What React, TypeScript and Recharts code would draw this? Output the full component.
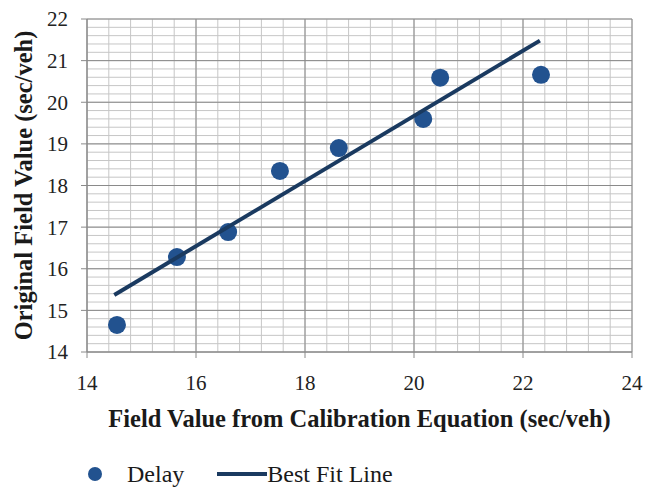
import { ScatterChart, Scatter, XAxis, YAxis, CartesianGrid, Legend, ReferenceLine } from "recharts"

const FONT = "'Liberation Serif', 'Times New Roman', serif"
const DOT = "#22528f"
const LINE = "#1a3a60"
const MAJOR = "#8a8a8a"

// measured delay points
const delayX = [14.55, 15.65, 16.59, 17.54, 18.62, 20.17, 20.48, 22.33]
const delayY = [14.65, 16.28, 16.88, 18.35, 18.9, 19.6, 20.59, 20.66]

// best fit line end points
const fitX = [14.5, 22.31]
const fitY = [15.37, 21.48]

const xTicks = [14, 16, 18, 20, 22, 24]
const yTicks = [14, 15, 16, 17, 18, 19, 20, 21, 22]
const xMinorTicks = Array.from({ length: 26 }, (_, i) => 14 + i * 0.4)
const yMinorTicks = Array.from({ length: 41 }, (_, i) => 14 + i * 0.2)

const delayData = delayX.map((x, i) => ({ x, y: delayY[i] }))
const fitData = fitX.map((x, i) => ({ x, y: fitY[i] }))

// eslint-disable-next-line @typescript-eslint/no-explicit-any
function DotShape(props: any) {
  return <circle cx={props.cx} cy={props.cy} r={9} fill={DOT} />
}

function NoShape() {
  return <g />
}

// eslint-disable-next-line @typescript-eslint/no-explicit-any
function XTick({ x, y, payload }: any) {
  return (
    <text x={x} y={y} dy="0.71em" textAnchor="middle" style={{ fontFamily: FONT }} fontSize={21} fill="#222">
      {payload.value}
    </text>
  )
}

// eslint-disable-next-line @typescript-eslint/no-explicit-any
function YTick({ x, y, payload }: any) {
  return (
    <text x={x} y={y} dy="0.355em" textAnchor="end" style={{ fontFamily: FONT }} fontSize={21} fill="#222">
      {payload.value}
    </text>
  )
}

// eslint-disable-next-line @typescript-eslint/no-explicit-any
function XTitle({ viewBox }: any) {
  return (
    <text
      x={viewBox.x + viewBox.width / 2}
      y={viewBox.y + 75}
      textAnchor="middle"
      style={{ fontFamily: FONT }}
      fontWeight="bold"
      fontSize={24.5}
      fill="#1a1a1a"
    >
      Field Value from Calibration Equation (sec/veh)
    </text>
  )
}

// eslint-disable-next-line @typescript-eslint/no-explicit-any
function YTitle({ viewBox }: any) {
  const cx = 23
  const cy = viewBox.y + viewBox.height / 2
  return (
    <text
      x={cx}
      y={cy}
      transform={`rotate(-90, ${cx}, ${cy})`}
      textAnchor="middle"
      dominantBaseline="central"
      style={{ fontFamily: FONT }}
      fontWeight="bold"
      fontSize={24.5}
      fill="#1a1a1a"
    >
      Original Field Value (sec/veh)
    </text>
  )
}

function LegendContent() {
  return (
    <div
      style={{
        height: 40,
        display: "flex",
        alignItems: "center",
        fontFamily: FONT,
        fontSize: 24,
        color: "#1a1a1a",
      }}
    >
      <svg width={16} height={16}>
        <circle cx={8} cy={8} r={7} fill={DOT} />
      </svg>
      <span style={{ marginLeft: 24 }}>Delay</span>
      <svg width={50} height={10} style={{ marginLeft: 33 }}>
        <line x1={0} y1={5} x2={50} y2={5} stroke={LINE} strokeWidth={4} />
      </svg>
      <span>Best Fit Line</span>
    </div>
  )
}

// minor grid positions come from the axis scale
// eslint-disable-next-line @typescript-eslint/no-explicit-any
const minorVertical = ({ xAxis, offset }: any) =>
  xMinorTicks.map((t) =>
    xAxis && typeof xAxis.scale === "function"
      ? xAxis.scale(t)
      : offset.left + ((t - 14) / 10) * offset.width
  )

// eslint-disable-next-line @typescript-eslint/no-explicit-any
const minorHorizontal = ({ yAxis, offset }: any) =>
  yMinorTicks.map((t) =>
    yAxis && typeof yAxis.scale === "function"
      ? yAxis.scale(t)
      : offset.top + ((22 - t) / 8) * offset.height
  )

export default function App() {
  return (
    <div style={{ position: "absolute", left: 0, top: 0, background: "#fff", fontFamily: FONT }}>
      <ScatterChart width={658} height={489} margin={{ top: 19, right: 26, left: 0, bottom: 0 }}>
        <CartesianGrid
          stroke="#c6c6c6"
          strokeWidth={1}
          verticalCoordinatesGenerator={minorVertical}
          horizontalCoordinatesGenerator={minorHorizontal}
        />
        {xTicks.map((t) => (
          <ReferenceLine key={`vx${t}`} x={t} stroke={MAJOR} strokeWidth={1} />
        ))}
        {yTicks.map((t) => (
          <ReferenceLine key={`hy${t}`} y={t} stroke={MAJOR} strokeWidth={1} />
        ))}
        <XAxis
          type="number"
          dataKey="x"
          domain={[14, 24]}
          ticks={xTicks}
          height={97}
          tick={<XTick />}
          tickSize={6}
          tickMargin={17}
          axisLine={{ stroke: MAJOR }}
          tickLine={{ stroke: MAJOR }}
          label={<XTitle />}
        />
        <YAxis
          type="number"
          dataKey="y"
          domain={[14, 22]}
          ticks={yTicks}
          width={87}
          tick={<YTick />}
          tickSize={6}
          tickMargin={13}
          axisLine={{ stroke: MAJOR }}
          tickLine={{ stroke: MAJOR }}
          label={<YTitle />}
        />
        <Scatter name="Delay" data={delayData} fill={DOT} shape={DotShape} isAnimationActive={false} />
        <Scatter
          name="Best Fit Line"
          data={fitData}
          line={{ stroke: LINE, strokeWidth: 4 }}
          shape={NoShape}
          isAnimationActive={false}
        />
        <Legend
          verticalAlign="bottom"
          align="left"
          content={<LegendContent />}
          wrapperStyle={{ left: 87, bottom: -5, width: 420 }}
        />
      </ScatterChart>
    </div>
  )
}
